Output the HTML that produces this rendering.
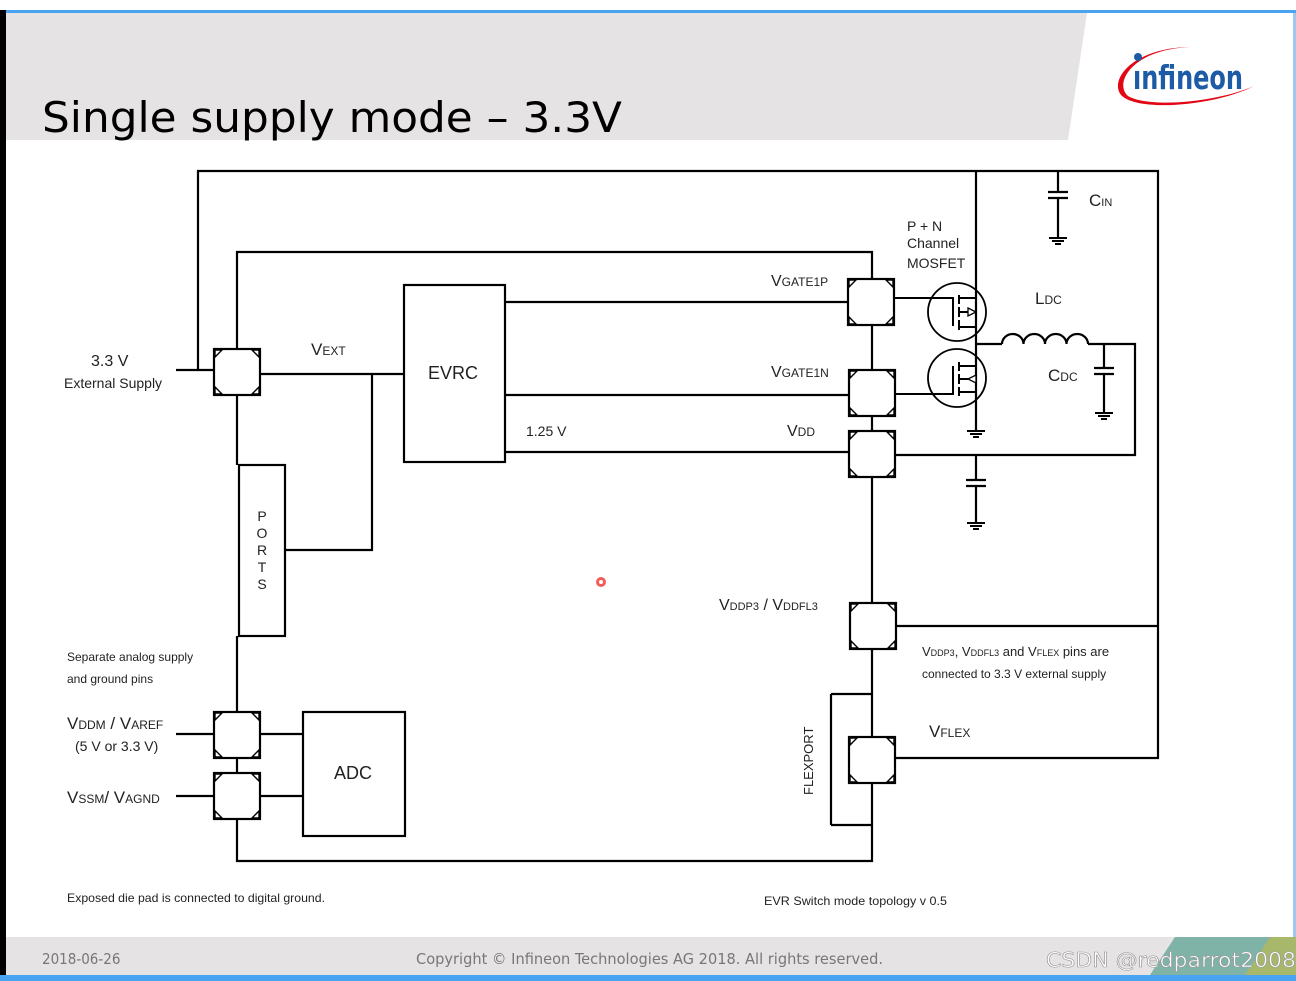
<!DOCTYPE html>
<html><head><meta charset="utf-8"><style>
html,body{margin:0;padding:0;background:#fff;}
body{width:1296px;height:981px;overflow:hidden;position:relative;font-family:"Liberation Sans",sans-serif;}
svg{position:absolute;left:0;top:0;}
</style></head><body>
<svg width="1296" height="981" viewBox="0 0 1296 981" xmlns="http://www.w3.org/2000/svg">
<defs>
<g id="pad">
<rect x="0" y="0" width="46" height="46" fill="#fff" stroke="#000" stroke-width="2.2"/>
<path d="M1 1 L1 8 L8 1 Z M45 1 L45 8 L38 1 Z M1 45 L1 38 L8 45 Z M45 45 L45 38 L38 45 Z" fill="#fff" stroke="#000" stroke-width="1.4"/>
</g>
<g id="gnd"><path d="M-9 0 H9 M-6 3 H6 M-3 6 H3" stroke="#000" stroke-width="2"/></g>
</defs>
<rect x="0" y="0" width="1296" height="981" fill="#fff"/>
<!-- header -->
<rect x="0" y="10" width="1296" height="3" fill="#4aa3f0"/>
<polygon points="6,13 1087,13 1068,140 6,140" fill="#e6e3e4"/>
<rect x="0" y="10" width="6" height="971" fill="#000"/>
<text x="42" y="132" font-family="DejaVu Sans,sans-serif" font-size="42" fill="#000" textLength="580" lengthAdjust="spacingAndGlyphs">Single supply mode – 3.3V</text>
<!-- logo -->
<path d="M1190 47 C1130 48 1108 82 1122 96 C1140 112 1215 106 1254 86 C1215 103 1148 108 1128 96 C1114 84 1130 50 1190 47 Z" fill="#e30613"/>
<circle cx="1138" cy="57" r="4" fill="#1d5ba6"/>
<text x="1133" y="89" font-family="DejaVu Sans Condensed,DejaVu Sans,sans-serif" font-size="33" font-weight="bold" fill="#1d5ba6" textLength="110" lengthAdjust="spacingAndGlyphs">ınfineon</text>
<!-- footer -->
<rect x="6" y="937" width="1290" height="38" fill="#e6e3e4"/>
<polygon points="1175,937 1296,937 1296,975 1150,975" fill="#7fb3a8"/>
<polygon points="1270,937 1296,937 1296,975 1245,975" fill="#a8b86a"/>
<rect x="0" y="975" width="1296" height="6" fill="#4aa3f0"/>
<rect x="1293" y="13" width="3" height="924" fill="#9fc8f0"/>
<g font-family="DejaVu Sans Condensed,DejaVu Sans,sans-serif" font-size="15" fill="#777">
<text x="42" y="964">2018-06-26</text>
<text x="416" y="964" textLength="467" lengthAdjust="spacingAndGlyphs">Copyright © Infineon Technologies AG 2018. All rights reserved.</text>
<text x="1046" y="967" font-size="20" fill="#fff" stroke="#999" stroke-width="0.6" textLength="250" lengthAdjust="spacingAndGlyphs">CSDN @redparrot2008</text>
</g>
<!-- wires -->
<g stroke="#000" stroke-width="2.2" fill="none">
<path d="M176 370 H214"/>
<path d="M198 370 V171 H1158 V758 H895"/>
<path d="M896 626 H1158"/>
<path d="M237 349 V252 H872 V279"/>
<path d="M237 395 V465"/>
<path d="M237 636 V712"/>
<path d="M237 819 V861 H872 V825"/>
<path d="M872 325 V370 M872 416 V431 M872 477 V603 M872 649 V737 M872 783 V825"/>
<path d="M261 374 H404"/>
<path d="M372 374 V550 H285"/>
<path d="M505 302 H848 M505 395 H848 M505 452 H848"/>
<path d="M895 455 H1135 V344 H1088"/>
<path d="M977 344 H1002"/>
<path d="M1002 344 a10.75 10 0 0 1 21.5 0 a10.75 10 0 0 1 21.5 0 a10.75 10 0 0 1 21.5 0 a10.75 10 0 0 1 21.5 0"/>
<path d="M1104 344 V368 M1104 374 V412"/>
<path d="M1094 368 H1114 M1094 374 H1114"/>
<path d="M1058 171 V192 M1058 198 V237 M1048 192 H1068 M1048 198 H1068"/>
<path d="M976 455 V480 M976 486 V523 M966 480 H986 M966 486 H986"/>
<path d="M976 171 V430"/>
<path d="M176 734 H214 M261 734 H303 M176 796 H214 M261 796 H303 M237 758 V773"/>
<path d="M831 694 H872 M831 825 H872 M831 694 V825"/>
<!-- mosfets -->
<circle cx="957" cy="312" r="29" stroke-width="1.8"/>
<circle cx="957" cy="378" r="29" stroke-width="1.8"/>
<path d="M894 298 H953 V326 M959 295 V304 M959 307 V317 M959 320 V330 M959 298 H977 M959 327 H977 M959 312 H970" stroke-width="2"/>
<path d="M895 394 H953 V366 M959 362 V371 M959 374 V384 M959 387 V396 M959 366 H977 M959 392 H977 M959 379 H970" stroke-width="2"/>
</g>
<path d="M968 308 L976 312 L968 316 Z" fill="#fff" stroke="#000" stroke-width="1.3"/>
<path d="M968 379 L976 375 L976 383 Z" fill="#fff" stroke="#000" stroke-width="1.3"/>
<use href="#gnd" x="1058" y="238"/>
<use href="#gnd" x="1104" y="413"/>
<use href="#gnd" x="976" y="431"/>
<use href="#gnd" x="976" y="523"/>
<!-- boxes -->
<g fill="#fff" stroke="#000" stroke-width="2.2">
<rect x="404" y="285" width="101" height="177"/>
<rect x="303" y="712" width="102" height="124"/>
<rect x="239" y="465" width="46" height="171"/>
</g>
<use href="#pad" x="214" y="349"/>
<use href="#pad" x="848" y="279"/>
<use href="#pad" x="849" y="370"/>
<use href="#pad" x="849" y="431"/>
<use href="#pad" x="850" y="603"/>
<use href="#pad" x="849" y="737"/>
<use href="#pad" x="214" y="712"/>
<use href="#pad" x="214" y="773"/>
<!-- labels -->
<g font-family="Liberation Sans,sans-serif" fill="#222">
<text x="428" y="379" font-size="18">EVRC</text>
<text x="334" y="779" font-size="18">ADC</text>
<g font-size="14" text-anchor="middle"><text x="262" y="521">P</text><text x="262" y="538">O</text><text x="262" y="555">R</text><text x="262" y="572">T</text><text x="262" y="589">S</text></g>
<text transform="translate(813,795) rotate(-90)" font-size="13">FLEXPORT</text>
<text x="91" y="366" font-size="16">3.3 V</text>
<text x="64" y="388" font-size="14">External Supply</text>
<text x="311" y="355" font-size="17">V<tspan font-size="12">EXT</tspan></text>
<text x="526" y="436" font-size="14">1.25 V</text>
<text x="771" y="286" font-size="16">V<tspan font-size="12">GATE1P</tspan></text>
<text x="771" y="377" font-size="16">V<tspan font-size="12">GATE1N</tspan></text>
<text x="787" y="436" font-size="16">V<tspan font-size="12">DD</tspan></text>
<text x="907" y="231" font-size="14">P + N</text>
<text x="907" y="248" font-size="14">Channel</text>
<text x="907" y="268" font-size="14">MOSFET</text>
<text x="1089" y="206" font-size="17">C<tspan font-size="11">IN</tspan></text>
<text x="1035" y="304" font-size="17">L<tspan font-size="12">DC</tspan></text>
<text x="1048" y="381" font-size="17">C<tspan font-size="12">DC</tspan></text>
<text x="719" y="610" font-size="16">V<tspan font-size="11">DDP3</tspan> / V<tspan font-size="11">DDFL3</tspan></text>
<text x="922" y="656" font-size="13">V<tspan font-size="9">DDP3</tspan>, V<tspan font-size="9">DDFL3</tspan> and V<tspan font-size="9">FLEX</tspan> pins are</text>
<text x="922" y="678" font-size="12">connected to 3.3 V external supply</text>
<text x="929" y="737" font-size="17">V<tspan font-size="12">FLEX</tspan></text>
<text x="67" y="661" font-size="12">Separate analog supply</text>
<text x="67" y="683" font-size="12">and ground pins</text>
<text x="67" y="729" font-size="17">V<tspan font-size="12">DDM</tspan> / V<tspan font-size="12">AREF</tspan></text>
<text x="75" y="751" font-size="14">(5 V or 3.3 V)</text>
<text x="67" y="803" font-size="17">V<tspan font-size="12">SSM</tspan>/ V<tspan font-size="12">AGND</tspan></text>
<text x="67" y="902" font-size="12" textLength="258" lengthAdjust="spacingAndGlyphs">Exposed die pad is connected to digital ground.</text>
<text x="764" y="905" font-size="12" textLength="183" lengthAdjust="spacingAndGlyphs">EVR Switch mode topology v 0.5</text>
</g>
<circle cx="601" cy="582" r="5" fill="#e33" opacity="0.8"/>
<circle cx="601" cy="582" r="2" fill="#fff"/>
</svg>
</body></html>
